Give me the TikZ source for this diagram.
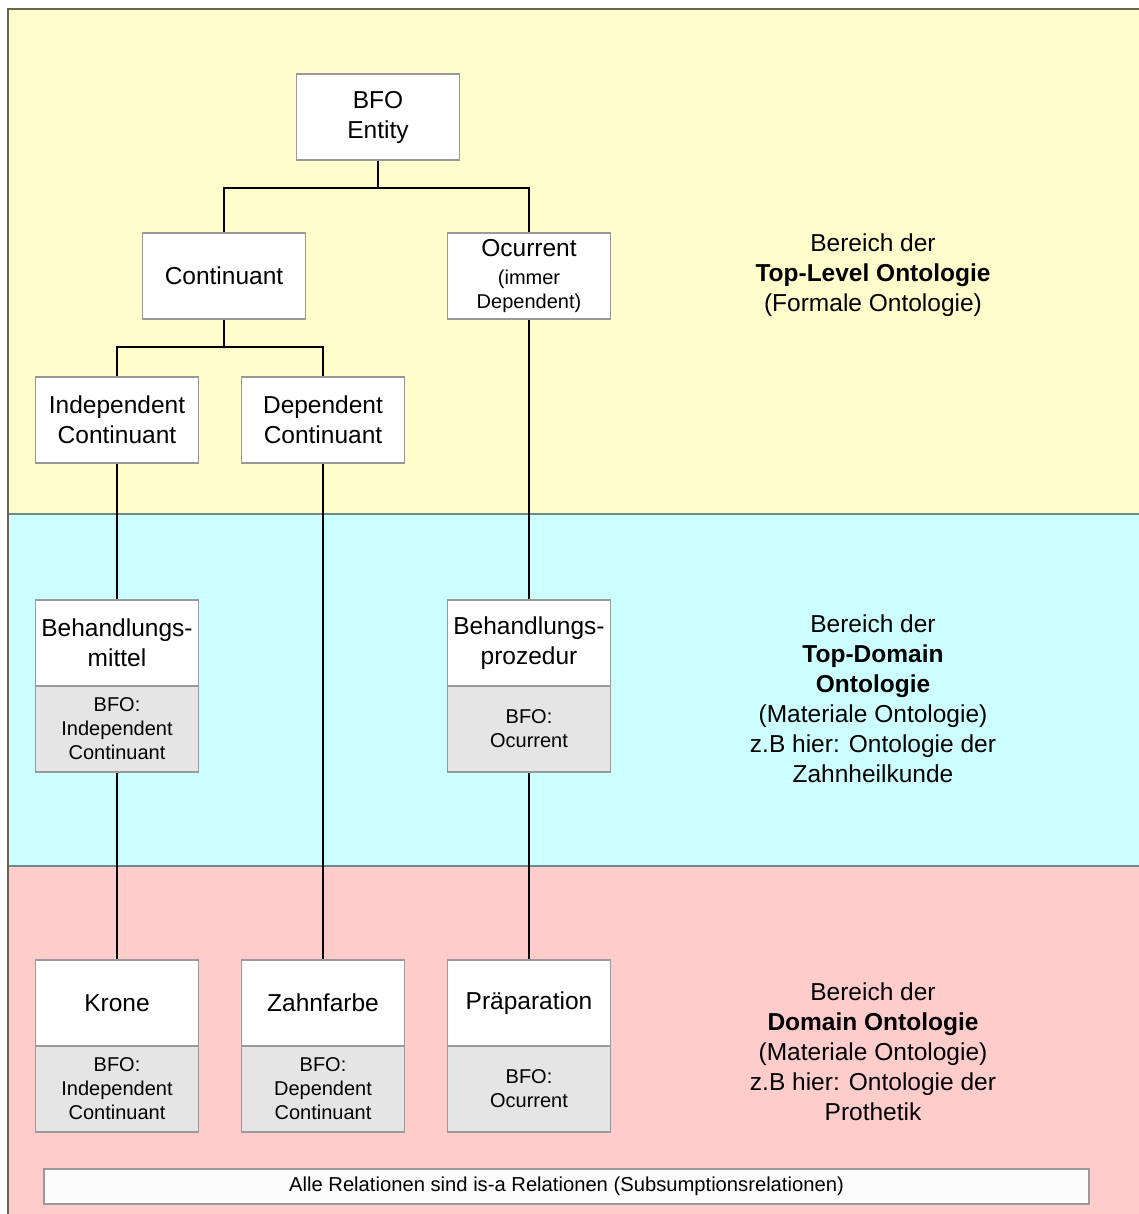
\documentclass[tikz,border=0pt]{standalone}
\usepackage{fontspec}
\setmainfont{Liberation Sans}
\definecolor{bandyellow}{HTML}{FFFDCC}
\definecolor{bandcyan}{HTML}{CCFFFF}
\definecolor{bandpink}{HTML}{FFCCCC}
\definecolor{subgray}{HTML}{E5E5E5}
\definecolor{boxgray}{HTML}{999999}
\definecolor{sepgray}{HTML}{6E8A8A}
\definecolor{framecol}{HTML}{6B6450}
\definecolor{notefill}{HTML}{FCFCFC}
\begin{document}
\begin{tikzpicture}[x=1pt,y=-1pt,
  cls/.style={draw=boxgray, line width=1.3pt, fill=white, minimum width=163pt, minimum height=86pt,
    inner sep=0pt, align=center, font=\fontsize{24.5}{30}\selectfont},
  basis/.style={cls, fill=subgray, font=\fontsize{20}{24}\selectfont},
  isa/.style={line width=2pt, draw=black},
  region/.style={align=center, font=\fontsize{24.5}{30}\selectfont},
  sep/.style={draw=sepgray, line width=1.5pt}]
\useasboundingbox (0,0) rectangle (1139,1214);
\fill[white] (0,0) rectangle (1139,1214);
% bands
\fill[bandyellow] (8,9) rectangle (1139,514);
\fill[bandcyan] (8,514) rectangle (1139,866);
\fill[bandpink] (8,866) rectangle (1139,1214);
\draw[sep] (8,514) -- (1139,514);
\draw[sep] (8,866) -- (1139,866);
\draw[framecol, line width=1.6pt] (8,1220) -- (8,9) -- (1145,9);

% nodes
\node[cls] (entity) at (378,117) {BFO\\Entity};
\node[cls] (cont) at (224,276) {Continuant};
\node[cls] (occ) at (529,276) {Ocurrent\\[-2pt]{\fontsize{20}{24}\selectfont (immer}\\[-6pt]{\fontsize{20}{24}\selectfont Dependent)}};
\node[cls] (ic) at (117,420) {Independent\\Continuant};
\node[cls] (dc) at (323,420) {Dependent\\Continuant};
\node[cls] (bm) at (117,643) {Behandlungs-\\mittel};
\node[basis] (bmb) at (117,729) {BFO:\\Independent\\Continuant};
\node[cls] (bp) at (529,643) {Behandlungs-\\prozedur};
\node[basis] (bpb) at (529,729) {BFO:\\Ocurrent};
\node[cls] (kr) at (117,1003) {Krone};
\node[basis] (krb) at (117,1089) {BFO:\\Independent\\Continuant};
\node[cls] (zf) at (323,1003) {Zahnfarbe};
\node[basis] (zfb) at (323,1089) {BFO:\\Dependent\\Continuant};
\node[cls] (pr) at (529,1003) {Präparation};
\node[basis] (prb) at (529,1089) {BFO:\\Ocurrent};

% connectors
\draw[isa] (entity.south) -- ++(0,27) coordinate (hubA);
\draw[isa] (hubA) -| (cont.north);
\draw[isa] (hubA) -| (occ.north);
\draw[isa] (cont.south) -- ++(0,27) coordinate (hubB);
\draw[isa] (hubB) -| (ic.north);
\draw[isa] (hubB) -| (dc.north);
\draw[isa] (ic.south) -- (bm.north);
\draw[isa] (bmb.south) -- (kr.north);
\draw[isa] (dc.south) -- (zf.north);
\draw[isa] (occ.south) -- (bp.north);
\draw[isa] (bpb.south) -- (pr.north);

% region labels
\node[region] (lvlA) at (873,275) {Bereich der\\\textbf{Top-Level Ontologie}\\(Formale Ontologie)};
\node[region] (lvlB) at (873,699) {Bereich der\\\textbf{Top-Domain}\\\textbf{Ontologie}\\(Materiale Ontologie)\\z.B hier: Ontologie der\\Zahnheilkunde};
\node[region] (lvlC) at (873,1052) {Bereich der\\\textbf{Domain Ontologie}\\(Materiale Ontologie)\\z.B hier: Ontologie der\\Prothetik};

% note
\node[draw=boxgray, line width=1.2pt, fill=notefill, minimum width=1045pt, minimum height=35pt,
  inner sep=0pt, font=\fontsize{20.2}{24}\selectfont] (note) at (566.5,1186.5)
  {Alle Relationen sind is-a Relationen (Subsumptionsrelationen)};
\end{tikzpicture}
\end{document}
